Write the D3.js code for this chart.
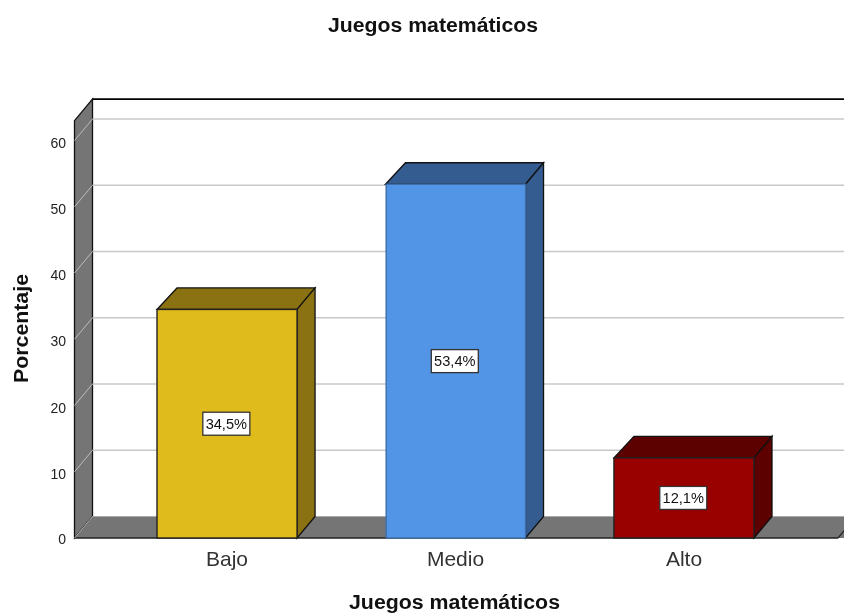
<!DOCTYPE html>
<html><head><meta charset="utf-8">
<script src="https://cdn.jsdelivr.net/npm/d3@7"></script>
<style>html,body{margin:0;padding:0;background:#fff;overflow:hidden}svg{display:block;font-family:"Liberation Sans",Arial,sans-serif;filter:blur(0.4px)}</style>
</head><body><svg id="c" width="844" height="613"></svg>
<script>
const chartTitle = "Juegos matemáticos";
const xAxisTitle = "Juegos matemáticos";
const yAxisTitle = "Porcentaje";
const categories = ["Bajo", "Medio", "Alto"];
const values = [34.5, 53.4, 12.1];
const valueLabels = ["34,5%", "53,4%", "12,1%"];
const frontColors = ["#e0bb1c", "#5294e6", "#990000"];
const sideColors = ["#8a7112", "#355c90", "#5c0000"];
const yTicks = [0, 10, 20, 30, 40, 50, 60];
const yMax = 63;

const dx = 18, dy = -21.5;
const svg = d3.select("#c");
const y = d3.scaleLinear().domain([0, 60]).range([538, 140.5]);
const x = d3.scaleBand().domain(categories).range([157, 754]).paddingInner(0.387).paddingOuter(0);
const xL = 74.5, xR = 838, xEnd = 860;
const poly = (pts, fill, stroke, sw) => svg.append("path")
  .attr("d", "M" + pts.map(p => p.join(",")).join("L") + "Z")
  .attr("fill", fill).attr("stroke", stroke).attr("stroke-width", sw).attr("stroke-linejoin", "miter");

// back wall outline
svg.append("line").attr("x1", xL + dx).attr("x2", xEnd).attr("y1", y(yMax) + dy).attr("y2", y(yMax) + dy)
  .attr("stroke", "#000").attr("stroke-width", 1.6);

// left wall
poly([[xL, y(0)], [xL, y(yMax)], [xL + dx, y(yMax) + dy], [xL + dx, y(0) + dy]], "#757575", "#111", 1.3);
// floor
poly([[xL, y(0)], [xL + dx, y(0) + dy], [xEnd, y(0) + dy], [xEnd, y(0)], [xR, y(0)]], "#757575", "none", 0);
svg.append("line").attr("x1", xL).attr("x2", xR).attr("y1", y(0)).attr("y2", y(0)).attr("stroke", "#222").attr("stroke-width", 1.5);
svg.append("line").attr("x1", xR).attr("x2", xR + dx).attr("y1", y(0)).attr("y2", y(0) + dy).attr("stroke", "#222").attr("stroke-width", 1.2);
svg.append("line").attr("x1", xL).attr("x2", xL + dx).attr("y1", y(0)).attr("y2", y(0) + dy).attr("stroke", "#aaa").attr("stroke-width", 1);
svg.append("line").attr("x1", xL + dx).attr("x2", xEnd).attr("y1", y(0) + dy).attr("y2", y(0) + dy).attr("stroke", "#aaa").attr("stroke-width", 1);

// gridlines
const gridVals = yTicks.filter(d => d > 0);
svg.selectAll(".g").data(gridVals).join("line").attr("class", "g")
  .attr("x1", xL + dx).attr("x2", xEnd).attr("y1", d => y(d) + dy).attr("y2", d => y(d) + dy)
  .attr("stroke", "#c8c8c8").attr("stroke-width", 1.5);
svg.selectAll(".gs").data(gridVals).join("line").attr("class", "gs")
  .attr("x1", xL).attr("x2", xL + dx).attr("y1", d => y(d)).attr("y2", d => y(d) + dy)
  .attr("stroke", "#bdbdbd").attr("stroke-width", 1);

// bars
categories.forEach((c, i) => {
  const x0 = x(c), w = x.bandwidth(), t = y(values[i]), b = y(0);
  poly([[x0, t], [x0 + dx + 2, t + dy], [x0 + w + dx, t + dy], [x0 + w, t]], sideColors[i], "#111", 1.3);
  poly([[x0 + w, t], [x0 + w + dx, t + dy], [x0 + w + dx, b + dy], [x0 + w, b]], sideColors[i], "#111", 1.3);
  svg.append("rect").attr("x", x0 + (i === 1 ? 0.7 : 0)).attr("y", t).attr("width", w - (i === 1 ? 0.7 : 0)).attr("height", b - t)
    .attr("fill", frontColors[i]).attr("stroke", i === 1 ? "#3f6ea8" : "#222").attr("stroke-width", 1.4);
  const cx = x0 + w / 2 - 0.7, cy = (t + b) / 2;
  svg.append("rect").attr("x", cx - 23.5).attr("y", cy - 11.5).attr("width", 47).attr("height", 23)
    .attr("fill", "#fff").attr("stroke", "#333").attr("stroke-width", 1.3);
  svg.append("text").attr("x", cx).attr("y", cy + 5).attr("text-anchor", "middle")
    .attr("font-size", 14.6).attr("fill", "#111").text(valueLabels[i]);
});

// y axis
svg.selectAll(".yl").data(yTicks).join("text").attr("class", "yl")
  .attr("x", 66).attr("y", d => y(d) + (d === 0 ? 6 : 7)).attr("text-anchor", "end")
  .attr("font-size", 14).attr("fill", "#222").text(d => d);
// x axis
svg.selectAll(".xl").data(categories).join("text").attr("class", "xl")
  .attr("x", d => x(d) + x.bandwidth() / 2).attr("y", 566).attr("text-anchor", "middle")
  .attr("font-size", 21).attr("fill", "#333").text(d => d);

// titles: same width as the reference, with the lower letter height it shows
const boldTitle = (sel, txt, len) => sel.attr("text-anchor", "middle")
  .attr("font-size", 19.5).attr("font-weight", "bold").attr("fill", "#111")
  .attr("textLength", len).attr("lengthAdjust", "spacingAndGlyphs").text(txt);
boldTitle(svg.append("text").attr("x", 433).attr("y", 31.5), chartTitle, 210);
boldTitle(svg.append("text").attr("x", 454.5).attr("y", 608.5), xAxisTitle, 211);
boldTitle(svg.append("text").attr("transform", "translate(27.5,328.5) rotate(-90)"), yAxisTitle, 109);
</script></body></html>
